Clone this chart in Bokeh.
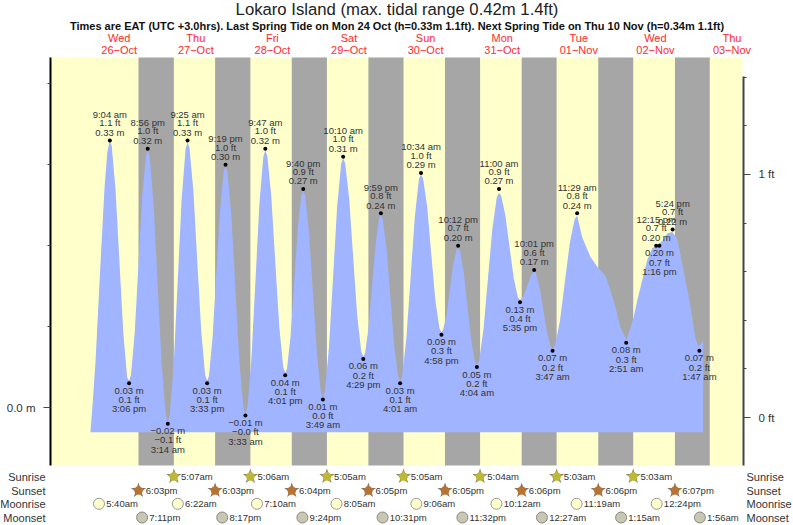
from bokeh.plotting import figure
from bokeh.models import (LinearAxis, FixedTicker, Range1d)
from bokeh.core.properties import value
from bokeh.embed import file_html
from bokeh.resources import INLINE

FONT = "Liberation Sans"

# --- data: hours after 26-Oct 00:00 ---------------------------------------
title_text = "Lokaro Island (max. tidal range 0.42m 1.4ft)"
subtitle_text = ("Times are EAT (UTC +3.0hrs). Last Spring Tide on Mon 24 Oct (h=0.33m 1.1ft). "
                 "Next Spring Tide on Thu 10 Nov (h=0.34m 1.1ft)")

day_noon_h = [12, 36, 60, 84, 108, 132, 156, 180, 204]
day_names = ["Wed", "Thu", "Fri", "Sat", "Sun", "Mon", "Tue", "Wed", "Thu"]
day_dates = ["26\u2212Oct", "27\u2212Oct", "28\u2212Oct", "29\u2212Oct", "30\u2212Oct",
             "31\u2212Oct", "01\u2212Nov", "02\u2212Nov", "03\u2212Nov"]

sunset_h = [18.05, 42.05, 66.07, 90.08, 114.08, 138.1, 162.1, 186.12]
sunrise_h = [29.12, 53.1, 77.08, 101.08, 125.07, 149.05, 173.05, 197.03]
sunrise_lbl_h = sunrise_h[:7]
sunrise_txt = ["5:07am", "5:06am", "5:05am", "5:05am", "5:04am", "5:03am", "5:03am"]
sunset_txt = ["6:03pm", "6:03pm", "6:04pm", "6:05pm", "6:05pm", "6:06pm", "6:06pm", "6:07pm"]
moonrise_h = [5.67, 30.37, 55.17, 80.08, 105.1, 130.2, 155.32, 180.4]
moonrise_txt = ["5:40am", "6:22am", "7:10am", "8:05am", "9:06am", "10:12am", "11:19am", "12:24pm"]
moonset_h = [19.18, 44.28, 69.4, 94.52, 119.53, 144.45, 169.25, 193.93]
moonset_txt = ["7:11pm", "8:17pm", "9:24pm", "10:31pm", "11:32pm", "12:27am", "1:15am", "1:56am"]

ext_h = [9.067, 15.1, 20.933, 27.233, 33.417, 39.55, 45.317, 51.55, 57.783, 64.017,
         69.667, 75.817, 82.167, 88.483, 93.983, 100.017, 106.567, 112.967, 118.2, 124.067,
         131.0, 137.583, 142.017, 147.783, 155.483, 170.85, 180.25, 181.267, 185.4, 193.783]
ext_m = [0.33, 0.03, 0.32, -0.02, 0.33, 0.03, 0.30, -0.01, 0.32, 0.04,
         0.27, 0.01, 0.31, 0.06, 0.24, 0.03, 0.29, 0.09, 0.20, 0.05,
         0.27, 0.13, 0.17, 0.07, 0.24, 0.08, 0.20, 0.20, 0.22, 0.07]
ext_m_txt = ["0.33 m", "0.03 m", "0.32 m", "\u22120.02 m", "0.33 m", "0.03 m", "0.30 m", "\u22120.01 m",
             "0.32 m", "0.04 m", "0.27 m", "0.01 m", "0.31 m", "0.06 m", "0.24 m", "0.03 m",
             "0.29 m", "0.09 m", "0.20 m", "0.05 m", "0.27 m", "0.13 m", "0.17 m", "0.07 m",
             "0.24 m", "0.08 m", "0.20 m", "0.20 m", "0.22 m", "0.07 m"]
ext_ft_txt = ["1.1 ft", "0.1 ft", "1.0 ft", "\u22120.1 ft", "1.1 ft", "0.1 ft", "1.0 ft", "\u22120.0 ft",
              "1.0 ft", "0.1 ft", "0.9 ft", "0.0 ft", "1.0 ft", "0.2 ft", "0.8 ft", "0.1 ft",
              "1.0 ft", "0.3 ft", "0.7 ft", "0.2 ft", "0.9 ft", "0.4 ft", "0.6 ft", "0.2 ft",
              "0.8 ft", "0.3 ft", "0.7 ft", "0.7 ft", "0.7 ft", "0.2 ft"]
ext_clock = ["9:04 am", "3:06 pm", "8:56 pm", "3:14 am", "9:25 am", "3:33 pm", "9:19 pm", "3:33 am",
             "9:47 am", "4:01 pm", "9:40 pm", "3:49 am", "10:10 am", "4:29 pm", "9:59 pm", "4:01 am",
             "10:34 am", "4:58 pm", "10:12 pm", "4:04 am", "11:00 am", "5:35 pm", "10:01 pm", "3:47 am",
             "11:29 am", "2:51 am", "12:15 pm", "1:16 pm", "5:24 pm", "1:47 am"]
ext_high = [1, 0, 1, 0, 1, 0, 1, 0, 1, 0, 1, 0, 1, 0, 1, 0, 1, 0, 1, 0, 1, 0, 1, 0, 1, 0, 1, 0, 1, 0]

curve_h = [3.0, 3.6, 4.6, 6.1, 7.4, 8.3, 9.07,
           9.67, 10.88, 12.08, 13.29, 14.5, 15.1,
           15.68, 16.85, 18.02, 19.18, 20.35, 20.93,
           21.56, 22.82, 24.08, 25.34, 26.6, 27.23,
           27.85, 29.09, 30.33, 31.56, 32.8, 33.42,
           34.03, 35.26, 36.48, 37.71, 38.94, 39.55,
           40.13, 41.28, 42.43, 43.59, 44.74, 45.32,
           45.94, 47.19, 48.43, 49.68, 50.93, 51.55,
           52.17, 53.42, 54.67, 55.91, 57.16, 57.78,
           58.41, 59.65, 60.9, 62.15, 63.39, 64.02,
           64.58, 65.71, 66.84, 67.97, 69.1, 69.67,
           70.28, 71.51, 72.74, 73.97, 75.2, 75.82,
           76.45, 77.72, 78.99, 80.26, 81.53, 82.17,
           82.8, 84.06, 85.32, 86.58, 87.85, 88.48,
           89.03, 90.13, 91.23, 92.33, 93.43, 93.98,
           94.58, 95.79, 97.0, 98.2, 99.41, 100.02,
           100.67, 101.98, 103.29, 104.6, 105.91, 106.57,
           107.21, 108.49, 109.77, 111.05, 112.33, 112.97,
           113.49, 114.54, 115.58, 116.63, 117.68, 118.2,
           118.79, 119.96, 121.13, 122.31, 123.48, 124.07,
           124.76, 126.15, 127.53, 128.92, 130.31, 131.0,
           131.66, 132.97, 134.29, 135.61, 136.92, 137.58,
           138.02, 138.91, 139.8, 140.69, 141.58, 142.02,
           142.6, 143.75, 144.9, 146.05, 147.2, 147.78,
           148.55, 150.09, 151.63, 153.17, 154.71, 155.48,
           157.07, 159.66, 162.17, 164.36, 165.93, 167.5, 169.07, 170.85,
           172.19, 173.2, 174.3, 175.86, 177.43, 179.0, 180.57, 182.14, 183.7, 185.26,
           186.83, 188.4, 190.7, 192.55, 193.6, 194.97]
curve_m = [-0.03, 0.0, 0.058, 0.175, 0.272, 0.316, 0.33,
           0.323, 0.268, 0.18, 0.092, 0.037, 0.033,
           0.04, 0.092, 0.175, 0.259, 0.311, 0.318,
           0.31, 0.249, 0.15, 0.052, -0.009, -0.017,
           -0.009, 0.054, 0.156, 0.257, 0.32, 0.328,
           0.321, 0.267, 0.18, 0.094, 0.04, 0.033,
           0.039, 0.088, 0.166, 0.243, 0.292, 0.298,
           0.291, 0.235, 0.145, 0.056, 0.0, -0.007,
           0.001, 0.06, 0.155, 0.251, 0.31, 0.318,
           0.311, 0.261, 0.18, 0.1, 0.05, 0.043,
           0.048, 0.089, 0.155, 0.222, 0.263, 0.268,
           0.262, 0.215, 0.14, 0.066, 0.019, 0.013,
           0.02, 0.074, 0.16, 0.247, 0.301, 0.308,
           0.302, 0.258, 0.185, 0.113, 0.069, 0.063,
           0.067, 0.099, 0.15, 0.202, 0.234, 0.238,
           0.233, 0.196, 0.135, 0.075, 0.038, 0.033,
           0.039, 0.086, 0.16, 0.235, 0.282, 0.288,
           0.283, 0.248, 0.19, 0.133, 0.098, 0.093,
           0.096, 0.114, 0.145, 0.176, 0.195, 0.197,
           0.194, 0.167, 0.125, 0.083, 0.056, 0.053,
           0.058, 0.097, 0.159, 0.221, 0.26, 0.265,
           0.262, 0.238, 0.199, 0.16, 0.136, 0.133,
           0.134, 0.14, 0.15, 0.16, 0.167, 0.168,
           0.166, 0.148, 0.12, 0.093, 0.075, 0.073,
           0.077, 0.107, 0.155, 0.203, 0.233, 0.237,
           0.2105, 0.186, 0.172, 0.163, 0.145, 0.124, 0.099, 0.084,
           0.099, 0.112, 0.132, 0.157, 0.182, 0.1965, 0.2015, 0.2056, 0.215, 0.217,
           0.209, 0.178, 0.132, 0.085, 0.075, 0.083]

curve_floor_m = -0.0305
plot_left_h = -9.525
plot_right_h = 207.6
yellow_end_h = 207.3
left_axis_minor_m = [0.1, 0.2, 0.3, 0.4]
right_axis_minor_ft = [0.2, 0.4, 0.6, 0.8, 1.2, 1.4]

# --- figure: the frame fills the page, so that every text lies inside it ------
TEXT = "#333333"
p = figure(width=793, height=525, output_backend="svg", toolbar_location=None,
           x_axis_type=None, y_axis_type=None,
           x_range=Range1d(-25.19, 223.27), y_range=Range1d(-0.14586, 0.5031),
           min_border_left=0, min_border_right=0, min_border_top=0, min_border_bottom=0,
           background_fill_color="white", border_fill_color="white",
           outline_line_color=None)
p.grid.visible = False
p.extra_y_ranges["ft"] = Range1d(-0.4444, 1.716)
p.extra_y_ranges["page"] = Range1d(525, 0)
p.extra_x_ranges["page"] = Range1d(0, 793)

YELLOW = "#FFFFCC"
GREY = "#A6A6A6"
BLUE = "#A0B4FF"
p.quad(left=[plot_left_h], right=[yellow_end_h], top=[57], bottom=[465], y_range_name="page",
       fill_color=YELLOW, line_color=None)
p.quad(left=sunset_h, right=sunrise_h, top=57, bottom=465, y_range_name="page",
       fill_color=GREY, line_color=None)
p.varea(x=curve_h, y1=curve_floor_m, y2=curve_m, fill_color=BLUE)

left = LinearAxis(ticker=FixedTicker(ticks=[0], minor_ticks=left_axis_minor_m),
                  bounds=(-0.0717, 0.4326), major_label_overrides={0: "0.0 m"},
                  fixed_location=plot_left_h)
left.axis_line_color = "black"
left.axis_line_width = 2
left.major_tick_out = 7
left.major_tick_in = 0
left.minor_tick_out = 3
left.minor_tick_in = 0
left.major_tick_line_color = "#444444"
left.minor_tick_line_color = "#444444"
left.major_label_text_font = FONT
left.major_label_text_font_size = "11.5px"
left.major_label_text_color = TEXT
left.major_label_standoff = 8
p.add_layout(left, "left")

right = LinearAxis(y_range_name="ft", bounds=(-0.1975, 1.403),
                   ticker=FixedTicker(ticks=[0, 1], minor_ticks=right_axis_minor_ft),
                   major_label_overrides={0: "0 ft", 1: "1 ft"},
                   fixed_location=plot_right_h)
right.axis_line_color = "#444444"
right.axis_line_width = 2
right.major_tick_out = 7
right.major_tick_in = 0
right.minor_tick_out = 3
right.minor_tick_in = 0
right.major_tick_line_color = "#444444"
right.minor_tick_line_color = "#444444"
right.major_label_text_font = FONT
right.major_label_text_font_size = "11.5px"
right.major_label_text_color = TEXT
right.major_label_standoff = 8
p.add_layout(right, "right")


def txt(x, y, t, **kw):
    base = dict(text_font=value(FONT), text_font_size="9.5px", text_color=TEXT)
    base.update(kw)
    return p.text(x=x, y=y, text=t, **base)


def stack(offs, texts, idx):
    txt([ext_h[i] for i in idx], [ext_m[i] for i in idx], [texts[i] for i in idx],
        y_offset=offs, text_align="center", text_baseline="middle")


hi = [i for i, h in enumerate(ext_high) if h]
lo = [i for i, h in enumerate(ext_high) if not h]
stack(-8.3, ext_m_txt, hi)
stack(-17.8, ext_ft_txt, hi)
stack(-26, ext_clock, hi)
stack(7, ext_m_txt, lo)
stack(16.3, ext_ft_txt, lo)
stack(25.5, ext_clock, lo)
p.scatter(x=ext_h, y=ext_m, size=4, marker="circle", fill_color="black", line_color=None)

# rows under the chart
ROW = {"Sunrise": 476, "Sunset": 490, "Moonrise": 503.3, "Moonset": 517}


def row(name, hours, texts, marker, size, fill, line):
    y = [ROW[name]] * len(hours)
    if marker == "star":
        p.scatter(x=hours, y=y, y_range_name="page", marker=marker, size=size,
                  fill_color="#777777", line_color=None)
        p.scatter(x=hours, y=y, y_range_name="page", marker=marker, size=size - 3,
                  fill_color=fill, line_color=None)
        p.scatter(x=hours, y=y, y_range_name="page", marker="circle", size=8.5,
                  fill_color=fill, line_color=None)
    else:
        p.scatter(x=hours, y=y, y_range_name="page", marker=marker, size=size,
                  fill_color=fill, line_color=line, line_width=1)
    txt(hours, y, texts, y_range_name="page", x_offset=7.2, text_baseline="middle", text_align="left")


row("Sunrise", sunrise_lbl_h, sunrise_txt, "star", 16, "#BDB935", "#888888")
row("Sunset", sunset_h, sunset_txt, "star", 16, "#B87333", "#888888")
row("Moonrise", moonrise_h, moonrise_txt, "circle", 11, YELLOW, "#999999")
row("Moonset", moonset_h, moonset_txt, "circle", 11, "#C8C8B0", "#888888")

names = list(ROW)
ys = [ROW[n] for n in names]
txt([45] * 4, ys, names, x_range_name="page", y_range_name="page", text_font_size="11px",
    text_align="right", text_baseline="middle")
txt([746] * 4, ys, names, x_range_name="page", y_range_name="page", text_font_size="11px",
    text_align="left", text_baseline="middle")

txt(day_noon_h, [37.5] * 9, day_names, y_range_name="page", text_font_size="11px",
    text_color="#FF2A2A", text_align="center", text_baseline="middle")
txt(day_noon_h, [49] * 9, day_dates, y_range_name="page", text_font_size="11px",
    text_color="#FF2A2A", text_align="center", text_baseline="middle")

txt([396.5], [8.5], [title_text], x_range_name="page", y_range_name="page", text_font_size="16.7px",
    text_color="#222222", text_align="center", text_baseline="middle")
txt([396.5], [25], [subtitle_text], x_range_name="page", y_range_name="page", text_font_size="11px",
    text_font_style="bold", text_color="#111111", text_align="center", text_baseline="middle")

open("out.html", "w").write(file_html(p, INLINE))
